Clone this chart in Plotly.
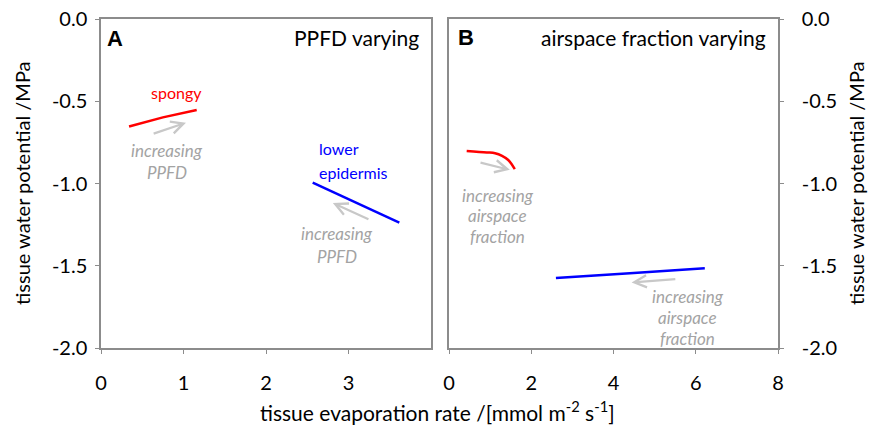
import plotly.graph_objects as go

# Panel A (PPFD varying)
a_spongy_x = [0.34, 0.75, 1.16]
a_spongy_y = [-0.654, -0.598, -0.553]
a_lower_x = [2.566, 3.09, 3.616]
a_lower_y = [-0.995, -1.114, -1.238]

# Panel B (airspace fraction varying)
b_spongy_x = [0.43, 0.92, 1.12, 1.29, 1.44, 1.60]
b_spongy_y = [-0.802, -0.811, -0.816, -0.832, -0.857, -0.913]
b_lower_x = [2.60, 4.40, 6.22]
b_lower_y = [-1.575, -1.546, -1.515]

y_ticks = [0.0, -0.5, -1.0, -1.5, -2.0]
y_labels = ["0.0", "-0.5", "-1.0", "-1.5", "-2.0"]
a_xticks = [0, 1, 2, 3]
b_xticks = [0, 2, 4, 6, 8]

RED = "#ff0000"
BLUE = "#0000ff"
GREY_TXT = "#a3a3a3"
GREY_ARR = "#c8c8c8"
AXC = "#8c8c8c"
FONT = "Lato"

fig = go.Figure()
fig.add_trace(go.Scatter(x=a_spongy_x, y=a_spongy_y, mode="lines", line=dict(color=RED, width=2.5), xaxis="x", yaxis="y"))
fig.add_trace(go.Scatter(x=a_lower_x, y=a_lower_y, mode="lines", line=dict(color=BLUE, width=2.5), xaxis="x", yaxis="y"))
fig.add_trace(go.Scatter(x=b_spongy_x, y=b_spongy_y, mode="lines", line=dict(color=RED, width=2.5, shape="spline"), xaxis="x2", yaxis="y2"))
fig.add_trace(go.Scatter(x=b_lower_x, y=b_lower_y, mode="lines", line=dict(color=BLUE, width=2.5, shape="spline"), xaxis="x2", yaxis="y2"))

W, H = 869, 428
def px(v): return v / W
def py(v): return 1 - v / H

axis_common = dict(showline=True, linecolor=AXC, linewidth=1.5, mirror=True, automargin=False,
                   ticks="outside", ticklen=4, tickcolor=AXC, showgrid=False, zeroline=False,
                   tickfont=dict(family=FONT, size=20, color="black"))

fig.update_layout(
    width=W, height=H, margin=dict(l=0, r=0, t=0, b=0, autoexpand=False),
    paper_bgcolor="white", plot_bgcolor="white", showlegend=False,
    xaxis=dict(domain=[px(101), px(431)], range=[0, 4], tickvals=a_xticks, anchor="y",
               ticklabelstandoff=12, **axis_common),
    xaxis2=dict(domain=[px(449), px(778)], range=[0, 8], tickvals=b_xticks, anchor="y2",
                ticklabelstandoff=12, **axis_common),
    yaxis=dict(domain=[py(348), py(19)], range=[-2, 0], tickvals=y_ticks, ticktext=y_labels, anchor="x",
               ticklabelstandoff=4, **axis_common),
    yaxis2=dict(domain=[py(348), py(19)], range=[-2, 0], tickvals=y_ticks, ticktext=y_labels, anchor="x2",
                side="right", ticklabelstandoff=14, **axis_common),
)

ann = []
def txt(text, x, y, xref, yref, color="black", size=18, xanchor="center", italic=False, bold=False, family=FONT):
    t = text
    if italic:
        t = "<i>" + t + "</i>"
    if bold:
        t = "<b>" + t + "</b>"
    ann.append(dict(text=t, x=x, y=y, xref=xref, yref=yref, showarrow=False, xanchor=xanchor, yanchor="middle",
                    font=dict(family=family, size=size, color=color)))

def arrow(x0, y0, x1, y1, xr, yr):
    ann.append(dict(x=x1, y=y1, ax=x0, ay=y0, xref=xr, yref=yr, axref=xr, ayref=yr, text="",
                    showarrow=True, arrowhead=5, arrowsize=1.1, arrowwidth=2.2, arrowcolor=GREY_ARR))

# Panel A texts
txt("A", px(115), py(39), "paper", "paper", size=22, bold=True, family="Liberation Sans")
txt("PPFD varying", px(421), py(37), "paper", "paper", size=21, xanchor="right")
txt("spongy", 0.92, -0.448, "x", "y", color=RED, size=16)
txt("increasing", 0.8, -0.8, "x", "y", color=GREY_TXT, size=17, italic=True)
txt("PPFD", 0.8, -0.935, "x", "y", color=GREY_TXT, size=17, italic=True)
txt("lower", 2.62, -0.79, "x", "y", color=BLUE, size=16, xanchor="left")
txt("epidermis", 2.62, -0.932, "x", "y", color=BLUE, size=16, xanchor="left")
txt("increasing", 2.86, -1.306, "x", "y", color=GREY_TXT, size=17, italic=True)
txt("PPFD", 2.86, -1.444, "x", "y", color=GREY_TXT, size=17, italic=True)
arrow(0.62, -0.70, 1.03, -0.63, "x", "y")
arrow(3.26, -1.221, 2.81, -1.118, "x", "y")

# Panel B texts
txt("B", px(466), py(38), "paper", "paper", size=22, bold=True, family="Liberation Sans")
txt("airspace fraction varying", px(768), py(37), "paper", "paper", size=21, xanchor="right")
txt("increasing", 1.19, -1.07, "x2", "y2", color=GREY_TXT, size=17, italic=True)
txt("airspace", 1.19, -1.197, "x2", "y2", color=GREY_TXT, size=17, italic=True)
txt("fraction", 1.19, -1.325, "x2", "y2", color=GREY_TXT, size=17, italic=True)
txt("increasing", 5.8, -1.688, "x2", "y2", color=GREY_TXT, size=17, italic=True)
txt("airspace", 5.8, -1.812, "x2", "y2", color=GREY_TXT, size=17, italic=True)
txt("fraction", 5.8, -1.94, "x2", "y2", color=GREY_TXT, size=17, italic=True)
arrow(0.73, -0.871, 1.48, -0.917, "x2", "y2")
arrow(5.54, -1.58, 4.44, -1.602, "x2", "y2")

# Axis titles
txt("tissue evaporation rate /[mmol m<sup>-2</sup> s<sup>-1</sup>]", px(437), py(411), "paper", "paper", size=21)
ann.append(dict(text="tissue water potential /MPa", x=px(22), y=py(183), xref="paper", yref="paper", showarrow=False,
                xanchor="center", yanchor="middle", textangle=-90, font=dict(family=FONT, size=20, color="black")))
ann.append(dict(text="tissue water potential /MPa", x=px(856), y=py(183), xref="paper", yref="paper", showarrow=False,
                xanchor="center", yanchor="middle", textangle=-90, font=dict(family=FONT, size=20, color="black")))

fig.update_layout(annotations=ann)
fig.write_html("out.html")
